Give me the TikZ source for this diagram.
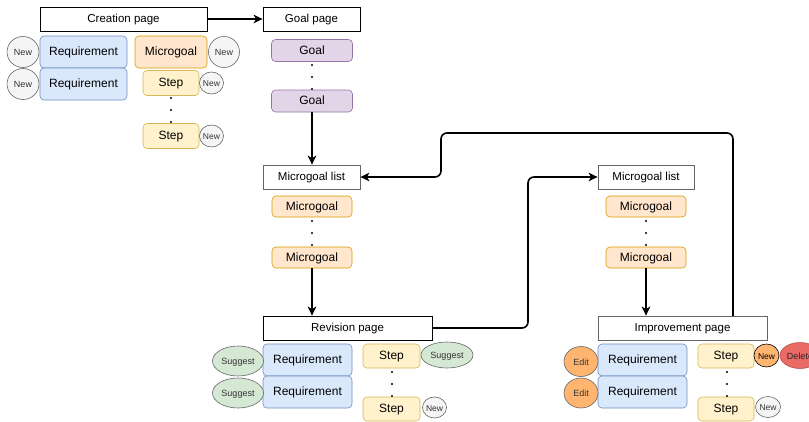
\documentclass[tikz,border=0pt]{standalone}
\usepackage{fontspec}
\setmainfont{Liberation Sans}
\usetikzlibrary{arrows.meta,shapes.geometric}
\definecolor{bluef}{HTML}{DAE8FC}\definecolor{blued}{HTML}{6C8EBF}
\definecolor{orf}{HTML}{FFE6CC}\definecolor{ord}{HTML}{D79B00}
\definecolor{yelf}{HTML}{FFF2CC}\definecolor{yeld}{HTML}{D6B656}
\definecolor{purf}{HTML}{E1D5E7}\definecolor{purd}{HTML}{9673A6}
\definecolor{grnf}{HTML}{D5E8D4}\definecolor{grnd}{HTML}{82B366}
\definecolor{grf}{HTML}{F5F5F5}\definecolor{grd}{HTML}{666666}
\definecolor{edf}{HTML}{FFB570}\definecolor{edd}{HTML}{B46504}
\definecolor{redf}{HTML}{EA6B66}\definecolor{redd}{HTML}{B85450}
\tikzset{
  pagebox/.style={draw=black, fill=white, line width=0.8pt, minimum height=24pt, inner sep=0pt, text height=0.72em, text depth=0pt, font=\fontsize{11.5}{12}\selectfont},
  pageboxg/.style={pagebox, draw=grd},
  rbox/.style={rounded corners=4pt, line width=0.6pt, inner sep=0pt, text height=0.72em, text depth=0pt, font=\fontsize{12}{13}\selectfont},
  reqbox/.style={rbox, draw=blued, fill=bluef, minimum width=88pt, minimum height=32pt},
  mgbox/.style={rbox, draw=ord, fill=orf},
  stepbox/.style={rbox, draw=yeld, fill=yelf, minimum width=56pt, minimum height=25pt},
  goalbox/.style={rbox, draw=purd, fill=purf, minimum width=81pt, minimum height=22pt},
  tag/.style={ellipse, inner sep=0pt, line width=0.6pt, text height=0.72em, text depth=0pt, font=\fontsize{9}{10}\selectfont},
  newtag/.style={tag, draw=grd, fill=grf, text=black!80},
  sugtag/.style={tag, draw=grd, fill=grnf, text=black!80},
  edittag/.style={tag, draw=grd, fill=edf, text=black!80},
  conn/.style={line width=1.6pt, -{Stealth[length=9pt,width=8.5pt,inset=2.5pt]}, rounded corners=6pt},
  dotmark/.style={circle, fill=black, inner sep=0pt, minimum size=2.2pt}
}
\begin{document}
\begin{tikzpicture}[x=1pt,y=-1pt]
\useasboundingbox (0,0) rectangle (809,421);
\clip (0,0) rectangle (809,421);
% creation page
\node[pagebox, minimum width=167pt] (creation) at (123.5,19) {Creation page};
\node[pagebox, minimum width=97pt] (goalpage) at (311.5,19) {Goal page};
\node[reqbox, minimum width=87pt] (req1) at (83.5,52) {Requirement};
\node[reqbox, minimum width=87pt] (req2) at (83.5,84) {Requirement};
\node[newtag, minimum width=32pt, minimum height=31pt] (new1) at (23,52) {New};
\node[newtag, minimum width=32pt, minimum height=31pt] (new2) at (23,84) {New};
\node[mgbox, minimum width=72pt, minimum height=32pt] (mg) at (171,52) {Microgoal};
\node[newtag, minimum width=31pt, minimum height=31pt] (newmg) at (224,52) {New};
\node[stepbox] (step1) at (171,83) {Step};
\node[stepbox] (step2) at (171,136) {Step};
\node[newtag, minimum width=23pt, minimum height=22pt, font=\fontsize{8.5}{9}\selectfont] (newst1) at (211.5,83) {New};
\node[newtag, minimum width=23pt, minimum height=22pt, font=\fontsize{8.5}{9}\selectfont] (newst2) at (211.5,136) {New};
\node[dotmark] (d1) at (171,98) {};
\node[dotmark] (d2) at (171,110) {};
\node[dotmark] (d3) at (171,122) {};
% goals
\node[goalbox] (goal1) at (312,50.5) {Goal};
\node[goalbox] (goal2) at (312,101) {Goal};
\node[dotmark] (d4) at (312,65) {};
\node[dotmark] (d5) at (312,77) {};
\node[dotmark] (d6) at (312,89) {};
% microgoal list left
\node[pageboxg, minimum width=97pt] (mlist1) at (311.5,177) {Microgoal list};
\node[mgbox, minimum width=80pt, minimum height=21pt] (mg1L) at (312,206.5) {Microgoal};
\node[mgbox, minimum width=80pt, minimum height=21pt] (mg2L) at (312,257.5) {Microgoal};
\node[dotmark] (d7) at (312,221) {};
\node[dotmark] (d8) at (312,233) {};
\node[dotmark] (d9) at (312,245) {};
% microgoal list right
\node[pageboxg, minimum width=96pt] (mlist2) at (646,177) {Microgoal list};
\node[mgbox, minimum width=80pt, minimum height=21pt] (mg1R) at (646,206.5) {Microgoal};
\node[mgbox, minimum width=80pt, minimum height=21pt] (mg2R) at (646,257.5) {Microgoal};
\node[dotmark] (d10) at (646,221) {};
\node[dotmark] (d11) at (646,233) {};
\node[dotmark] (d12) at (646,245) {};
% revision page
\node[pagebox, minimum width=169pt] (revision) at (347.5,328) {Revision page};
\node[reqbox, minimum width=89pt] (reqR1) at (307.5,360) {Requirement};
\node[reqbox, minimum width=89pt] (reqR2) at (307.5,392) {Requirement};
\node[sugtag, minimum width=51pt, minimum height=30pt] (sug1) at (238,361) {Suggest};
\node[sugtag, minimum width=51pt, minimum height=30pt] (sug2) at (238,393) {Suggest};
\node[stepbox, minimum width=57pt, minimum height=24pt] (stepR1) at (391.5,356) {Step};
\node[stepbox, minimum width=57pt, minimum height=24pt] (stepR2) at (391.5,409) {Step};
\node[sugtag, minimum width=52pt, minimum height=26pt] (sugR) at (447,355) {Suggest};
\node[newtag, minimum width=24pt, minimum height=21pt, font=\fontsize{8.5}{9}\selectfont] (newR) at (434.5,407.5) {New};
\node[dotmark] (d13) at (392,372) {};
\node[dotmark] (d14) at (392,384) {};
\node[dotmark] (d15) at (392,396) {};
% improvement page
\node[pageboxg, minimum width=169pt] (improvement) at (682.5,328) {Improvement page};
\node[reqbox, minimum width=89pt] (reqI1) at (642.5,360) {Requirement};
\node[reqbox, minimum width=89pt] (reqI2) at (642.5,392) {Requirement};
\node[edittag, minimum width=34pt, minimum height=30pt] (edit1) at (581,361.5) {Edit};
\node[edittag, minimum width=34pt, minimum height=30pt] (edit2) at (581,393) {Edit};
\node[stepbox, minimum width=56pt, minimum height=24pt] (stepI1) at (726,356) {Step};
\node[stepbox, minimum width=56pt, minimum height=24pt] (stepI2) at (726,409) {Step};
\node[tag, draw=black, fill=edf, minimum width=25pt, minimum height=23pt, font=\fontsize{8.5}{9}\selectfont] (newI) at (766.5,355.5) {New};
\node[tag, draw=redd, fill=redf, minimum width=40pt, minimum height=26pt, text=black!85] (delete) at (800,355.5) {Delete};
\node[newtag, minimum width=25pt, minimum height=21pt, font=\fontsize{8.5}{9}\selectfont] (newI2) at (768,407) {New};
\node[dotmark] (d16) at (727,372) {};
\node[dotmark] (d17) at (727,384) {};
\node[dotmark] (d18) at (727,396) {};
% connectors
\draw[conn] (creation.east) -- (goalpage.west);
\draw[conn] (goal2.south) -- (goal2.south |- mlist1.north);
\draw[conn] (mg2L.south) -- (mg2L.south |- revision.north);
\draw[conn] (mg2R.south) -- (mg2R.south |- improvement.north);
\coordinate (rv) at (528,250);
\draw[conn] (revision.east) -| (rv) |- (mlist2.west);
\coordinate (loopstart) at (733,316);
\coordinate (lp1) at (733,133);
\coordinate (lp2) at (441,133);
\coordinate (lp3) at (441,177);
\draw[conn] (loopstart) -- (lp1) -- (lp2) -- (lp3) -- (mlist1.east);
\end{tikzpicture}
\end{document}
